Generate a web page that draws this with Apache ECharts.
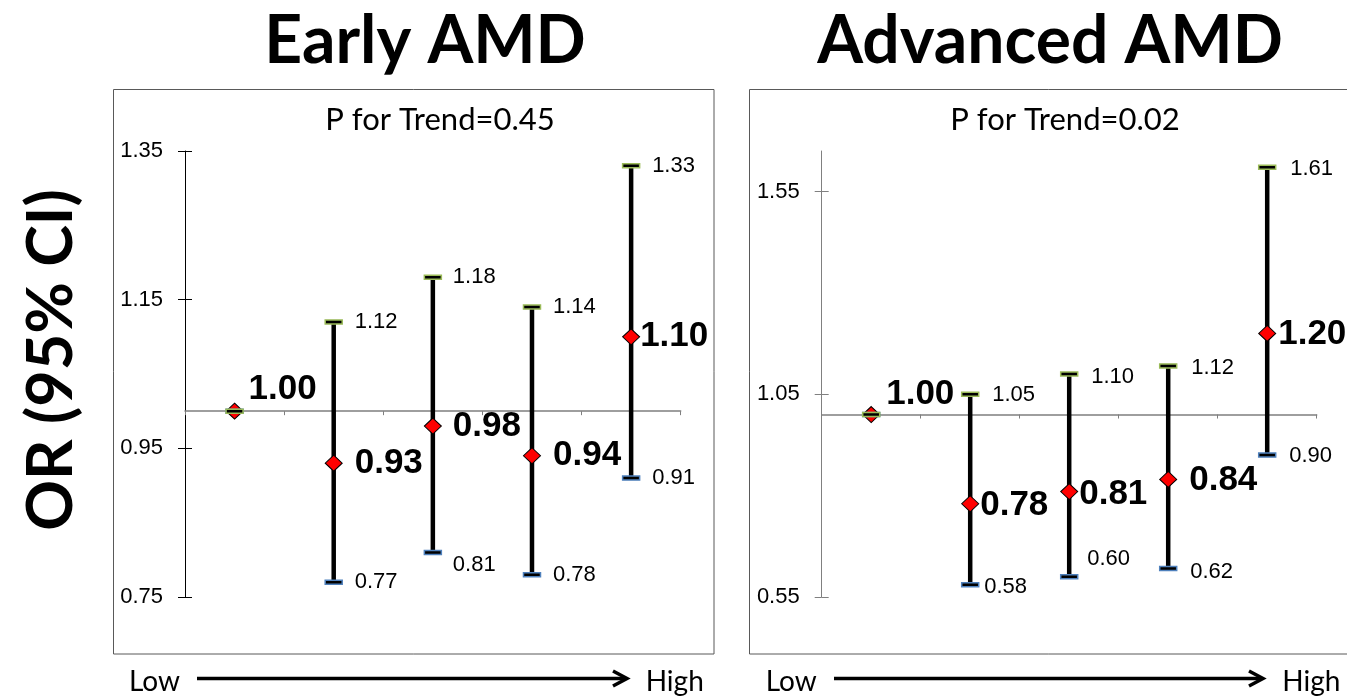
<!DOCTYPE html>
<html>
<head>
<meta charset="utf-8">
<script src="https://cdn.jsdelivr.net/npm/echarts@6/dist/echarts.min.js"></script>
<style>
  html, body { margin: 0; padding: 0; background: #fff; }
  #chart { width: 1347px; height: 700px; }
</style>
</head>
<body>
<div id="chart"></div>
<script>
// Quintile categories (low to high)
const quintiles = ['Q1', 'Q2', 'Q3', 'Q4', 'Q5'];

// Early AMD: odds ratios with 95% confidence limits
const earlyOR = [1.00, 0.93, 0.98, 0.94, 1.10];
const earlyLow = [1.00, 0.77, 0.81, 0.78, 0.91];
const earlyHigh = [1.00, 1.12, 1.18, 1.14, 1.33];

// Advanced AMD: odds ratios with 95% confidence limits
const advancedOR = [1.00, 0.78, 0.81, 0.84, 1.20];
const advancedLow = [1.00, 0.58, 0.60, 0.62, 0.90];
const advancedHigh = [1.00, 1.05, 1.10, 1.12, 1.61];

// Axis tick labels
const earlyTicks = [0.75, 0.95, 1.15, 1.35];
const advancedTicks = [0.55, 1.05, 1.55];

// Texts
const panelTitles = ['Early AMD', 'Advanced AMD'];
const trendTexts = ['P for Trend=0.45', 'P for Trend=0.02'];
const yTitle = 'OR (95% CI)';
const lowText = 'Low';
const highText = 'High';
const referenceOR = 1.0;

// Layout per panel (pixels, label nudges)
const panels = [
  {
    or: earlyOR, low: earlyLow, high: earlyHigh, ticks: earlyTicks,
    min: 0.75, max: 1.35,
    grid: { left: 185, top: 151, width: 495.7, height: 446 },
    axisColor: '#000',
    orShift:   [[14, -22], [21, 0], [20, 0], [21, 0], [9, 0]],
    highShift: [null, [21, 0], [20, 0], [21, 0], [21, 0]],
    lowShift:  [null, [21, 0], [20, 13], [21, 0], [21, 0]]
  },
  {
    or: advancedOR, low: advancedLow, high: advancedHigh, ticks: advancedTicks,
    min: 0.55, max: 1.65,
    grid: { left: 821.7, top: 151, width: 495, height: 446 },
    axisColor: '#808080',
    orShift:   [[15, -20], [10, 2], [10, 3], [21, 1], [11, 1]],
    highShift: [null, [22, 1], [22, 3], [23, 2], [23, 2]],
    lowShift:  [null, [14, 2], [18, -18], [22, 3], [22, 1]]
  }
];

const tickFont = 'Liberation Sans, Arial, sans-serif';
const capsFont = 'Lato, sans-serif';

const grids = [], xAxes = [], yAxes = [], series = [];

panels.forEach(function (p, k) {
  grids.push(Object.assign({ containLabel: false }, p.grid));

  // Category axis drawn across the plot at OR = 1
  const offset = -(referenceOR - p.min) / (p.max - p.min) * p.grid.height;
  xAxes.push({
    type: 'category', gridIndex: k, data: quintiles, boundaryGap: true,
    position: 'bottom', offset: offset,
    axisLine: { onZero: false, lineStyle: { color: '#7f7f7f', width: 1.5 } },
    axisTick: { show: true, length: 4, lineStyle: { color: '#7f7f7f', width: 1 } },
    axisLabel: { show: false },
    splitLine: { show: false }
  });

  // Main value axis with outward ticks and labels
  yAxes.push({
    type: 'value', gridIndex: k, min: p.min, max: p.max, position: 'left',
    axisLine: { show: true, lineStyle: { color: p.axisColor, width: 1 } },
    axisTick: { show: true, length: 7, customValues: p.ticks, lineStyle: { color: p.axisColor, width: 1 } },
    axisLabel: {
      customValues: p.ticks, margin: 22, color: '#000', fontSize: 22, fontFamily: tickFont,
      formatter: function (v) { return v.toFixed(2); }
    },
    splitLine: { show: false }
  });
  // Companion axis for the inward half of each tick
  yAxes.push({
    type: 'value', gridIndex: k, min: p.min, max: p.max, position: 'left',
    axisLine: { show: false },
    axisTick: { show: true, inside: true, length: 7, customValues: p.ticks, lineStyle: { color: p.axisColor, width: 1 } },
    axisLabel: { show: false },
    splitLine: { show: false }
  });

  const rows = quintiles.map(function (q, i) { return [i, p.low[i], p.high[i], p.or[i]]; });

  // Confidence interval stems
  series.push({
    type: 'custom', xAxisIndex: k, yAxisIndex: 2 * k, z: 2, silent: true,
    data: rows, encode: { x: 0, y: [1, 2] },
    renderItem: function (params, api) {
      const a = api.coord([api.value(0), api.value(1)]);
      const b = api.coord([api.value(0), api.value(2)]);
      return { type: 'line', shape: { x1: a[0], y1: a[1], x2: b[0], y2: b[1] },
        style: { stroke: '#000', lineWidth: 4.5 } };
    }
  });

  // Odds ratio markers
  series.push({
    type: 'scatter', xAxisIndex: k, yAxisIndex: 2 * k, z: 3, silent: true,
    symbol: 'diamond', symbolSize: [17, 16],
    itemStyle: { color: '#ff0000', borderColor: '#000', borderWidth: 1, opacity: 1 },
    data: quintiles.map(function (q, i) { return [i, p.or[i]]; })
  });

  // Caps and value labels
  series.push({
    type: 'custom', xAxisIndex: k, yAxisIndex: 2 * k, z: 4, silent: true,
    data: rows, encode: { x: 0, y: [1, 2, 3] },
    renderItem: function (params, api) {
      const i = params.dataIndex;
      const lo = api.value(1), hi = api.value(2), or = api.value(3);
      const pl = api.coord([i, lo]);
      const ph = api.coord([i, hi]);
      const po = api.coord([i, or]);
      const capW = 17, capH = 4;
      const children = [
        { type: 'rect', shape: { x: pl[0] - capW / 2, y: pl[1] - capH / 2, width: capW, height: capH },
          style: { fill: '#000', stroke: '#4f81bd', lineWidth: 1.5 } },
        { type: 'rect', shape: { x: ph[0] - capW / 2, y: ph[1] - capH / 2, width: capW, height: capH },
          style: { fill: '#000', stroke: '#9bbb59', lineWidth: 1.5 } }
      ];
      const so = p.orShift[i];
      children.push({ type: 'text', x: po[0] + so[0], y: po[1] + so[1],
        style: { text: or.toFixed(2), fill: '#000', font: 'bold 35px ' + tickFont,
          align: 'left', verticalAlign: 'middle' } });
      if (p.highShift[i]) {
        const sh = p.highShift[i];
        children.push({ type: 'text', x: ph[0] + sh[0], y: ph[1] + sh[1],
          style: { text: hi.toFixed(2), fill: '#000', font: '22px ' + tickFont,
            align: 'left', verticalAlign: 'middle' } });
      }
      if (p.lowShift[i]) {
        const sl = p.lowShift[i];
        children.push({ type: 'text', x: pl[0] + sl[0], y: pl[1] + sl[1],
          style: { text: lo.toFixed(2), fill: '#000', font: '22px ' + tickFont,
            align: 'left', verticalAlign: 'middle' } });
      }
      return { type: 'group', children: children };
    }
  });
});

// Frames, titles and the low-to-high arrows
const graphics = [
  { type: 'rect', shape: { x: 113.5, y: 89.5, width: 600.5, height: 564.5 },
    style: { fill: 'none', stroke: '#595959', lineWidth: 1 }, z: 0 },
  { type: 'rect', shape: { x: 749.5, y: 89.5, width: 600, height: 564.5 },
    style: { fill: 'none', stroke: '#595959', lineWidth: 1 }, z: 0 },
  { type: 'text', x: 425, y: 42, style: { text: panelTitles[0], font: 'bold 66px ' + capsFont,
      fill: '#000', align: 'center', verticalAlign: 'middle' } },
  { type: 'text', x: 1050, y: 42, style: { text: panelTitles[1], font: 'bold 66px ' + capsFont,
      fill: '#000', align: 'center', verticalAlign: 'middle' } },
  { type: 'text', x: 440, y: 120, style: { text: trendTexts[0], font: '31px ' + capsFont,
      fill: '#000', align: 'center', verticalAlign: 'middle' } },
  { type: 'text', x: 1065, y: 120, style: { text: trendTexts[1], font: '31px ' + capsFont,
      fill: '#000', align: 'center', verticalAlign: 'middle' } },
  { type: 'text', x: 52, y: 360, rotation: Math.PI / 2, style: { text: yTitle, font: 'bold 63px ' + capsFont,
      fill: '#000', align: 'center', verticalAlign: 'middle' } }
];

[[129, 197, 627, 645.7], [765.7, 834, 1263, 1282.3]].forEach(function (a) {
  graphics.push({ type: 'text', x: a[0], y: 682, style: { text: lowText, font: '28px ' + capsFont,
    fill: '#000', align: 'left', verticalAlign: 'middle' } });
  graphics.push({ type: 'line', shape: { x1: a[1], y1: 678.5, x2: a[2] - 2, y2: 678.5 },
    style: { stroke: '#000', lineWidth: 3.5 } });
  graphics.push({ type: 'polyline', shape: { points: [[a[2] - 14, 671], [a[2], 678.5], [a[2] - 14, 686]] },
    style: { stroke: '#000', lineWidth: 3.5, fill: 'none', lineJoin: 'miter' } });
  graphics.push({ type: 'text', x: a[3], y: 682, style: { text: highText, font: '28px ' + capsFont,
    fill: '#000', align: 'left', verticalAlign: 'middle' } });
});

const chart = echarts.init(document.getElementById('chart'), null, { renderer: 'canvas' });
chart.setOption({
  animation: false,
  backgroundColor: '#fff',
  grid: grids,
  xAxis: xAxes,
  yAxis: yAxes,
  series: series,
  graphic: graphics
});
</script>
</body>
</html>
